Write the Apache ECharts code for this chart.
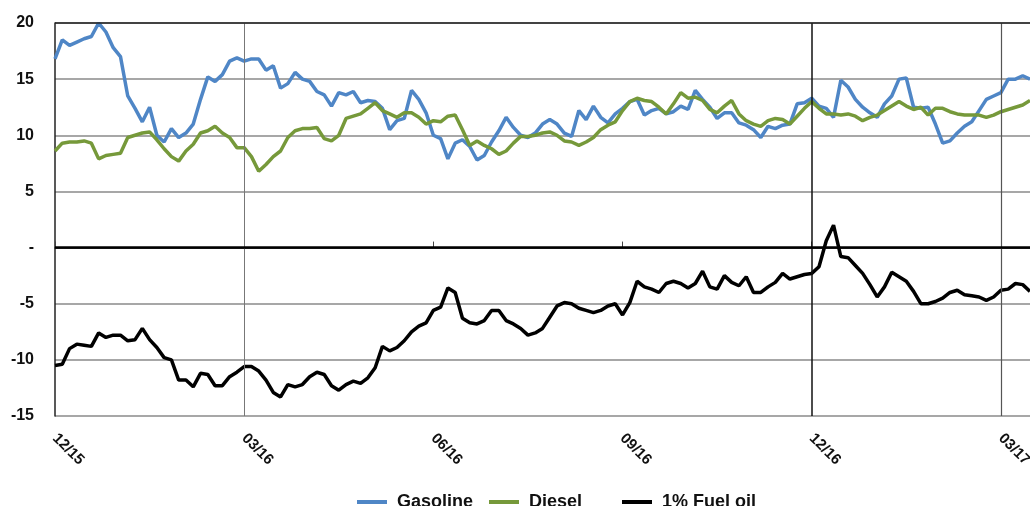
<!DOCTYPE html>
<html>
<head>
<meta charset="utf-8">
<script src="https://cdn.jsdelivr.net/npm/echarts@6/dist/echarts.min.js"></script>
<style>
  html, body { margin: 0; padding: 0; background: #fff; }
  #chart { width: 1030px; height: 506px; }
</style>
</head>
<body>
<div id="chart"></div>
<script>
// ~2 readings per week, 26 per quarter, Dec 2015 -> mid Mar 2017
var tickLabels = ['12/15', '03/16', '06/16', '09/16', '12/16', '03/17'];
var tickIndex = [0, 26, 52, 78, 104, 130];

var gasoline = [
  16.8, 18.5, 18.0, 18.3, 18.6, 18.8, 20.0, 19.2, 17.8, 17.0, 13.5, 12.4, 11.2, 12.5, 10.0, 9.4, 10.6, 9.8, 10.2, 11.0, 13.2, 15.2, 14.8, 15.4, 16.6, 16.9,
  16.6, 16.8, 16.8, 15.8, 16.2, 14.2, 14.6, 15.6, 15.0, 14.8, 13.9, 13.6, 12.6, 13.8, 13.6, 13.9, 12.9, 13.1, 13.0, 12.4, 10.5, 11.3, 11.5, 14.0, 13.2, 12.0,
  10.0, 9.7, 7.9, 9.3, 9.6, 9.0, 7.8, 8.2, 9.4, 10.4, 11.6, 10.7, 10.0, 9.8, 10.2, 11.0, 11.4, 11.0, 10.2, 9.9, 12.2, 11.4, 12.6, 11.6, 11.1, 11.9,
  12.4, 13.0, 13.2, 11.8, 12.2, 12.4, 11.9, 12.1, 12.6, 12.3, 14.0, 13.2, 12.5, 11.5, 12.0, 12.0, 11.1, 10.9, 10.5, 9.8, 10.8, 10.6, 10.9, 11.0, 12.8, 12.9,
  13.3, 12.6, 12.4, 11.6, 14.9, 14.3, 13.2, 12.5, 12.0, 11.6, 12.8, 13.5, 15.0, 15.1, 12.5, 12.4, 12.5, 11.0, 9.3, 9.5, 10.2, 10.8, 11.2, 12.2, 13.2, 13.5, 13.8, 15.0, 15.0, 15.3, 15.0
];
var diesel = [
  8.6, 9.3, 9.4, 9.4, 9.5, 9.3, 7.9, 8.2, 8.3, 8.4, 9.8, 10.0, 10.2, 10.3, 9.6, 8.8, 8.1, 7.7, 8.6, 9.2, 10.2, 10.4, 10.8, 10.2, 9.8, 8.9,
  8.9, 8.1, 6.8, 7.4, 8.1, 8.6, 9.8, 10.4, 10.6, 10.6, 10.7, 9.7, 9.5, 10.0, 11.5, 11.7, 11.9, 12.4, 12.9, 12.2, 11.9, 11.6, 12.0, 12.0, 11.6, 11.0,
  11.3, 11.2, 11.7, 11.8, 10.5, 9.1, 9.5, 9.1, 8.8, 8.3, 8.6, 9.3, 9.9, 9.9, 10.0, 10.2, 10.3, 10.0, 9.5, 9.4, 9.1, 9.4, 9.8, 10.5, 10.9, 11.2,
  12.2, 13.0, 13.3, 13.1, 13.0, 12.5, 11.9, 12.8, 13.8, 13.3, 13.4, 13.1, 12.3, 12.0, 12.6, 13.1, 11.9, 11.3, 11.0, 10.8, 11.3, 11.5, 11.4, 11.0, 11.7, 12.4,
  13.0, 12.4, 11.9, 11.9, 11.8, 11.9, 11.7, 11.3, 11.6, 11.8, 12.2, 12.6, 13.0, 12.6, 12.3, 12.5, 11.8, 12.4, 12.4, 12.1, 11.9, 11.8, 11.8, 11.8, 11.6, 11.8, 12.1, 12.3, 12.5, 12.7, 13.1
];
var fuelOil = [
  -10.5, -10.4, -9.0, -8.6, -8.7, -8.8, -7.6, -8.0, -7.8, -7.8, -8.3, -8.2, -7.2, -8.2, -8.9, -9.8, -10.0, -11.8, -11.8, -12.4, -11.2, -11.3, -12.3, -12.3, -11.5, -11.1,
  -10.6, -10.6, -11.0, -11.8, -12.9, -13.3, -12.2, -12.4, -12.2, -11.5, -11.1, -11.3, -12.3, -12.7, -12.2, -11.9, -12.1, -11.6, -10.7, -8.8, -9.2, -8.9, -8.3, -7.5, -7.0, -6.7,
  -5.6, -5.3, -3.6, -4.0, -6.3, -6.7, -6.8, -6.5, -5.6, -5.6, -6.5, -6.8, -7.2, -7.8, -7.6, -7.2, -6.2, -5.2, -4.9, -5.0, -5.4, -5.6, -5.8, -5.6, -5.2, -5.0,
  -6.0, -4.9, -3.0, -3.5, -3.7, -4.0, -3.2, -3.0, -3.2, -3.6, -3.2, -2.1, -3.5, -3.7, -2.5, -3.1, -3.4, -2.6, -4.0, -4.0, -3.5, -3.1, -2.3, -2.8, -2.6, -2.4,
  -2.3, -1.7, 0.6, 2.0, -0.8, -0.9, -1.6, -2.3, -3.3, -4.4, -3.5, -2.2, -2.6, -3.0, -3.9, -5.0, -5.0, -4.8, -4.5, -4.0, -3.8, -4.2, -4.3, -4.4, -4.7, -4.4, -3.8, -3.7, -3.2, -3.3, -3.9
];

var categories = gasoline.map(function (v, i) { return String(i); });
var font = 'Liberation Sans, Arial, sans-serif';

var myChart = echarts.init(document.getElementById('chart'));

function legendAt(name, left) {
  return {
    data: [name],
    left: left,
    top: 493,
    padding: 0,
    icon: 'rect',
    itemWidth: 30,
    itemHeight: 4,
    selectedMode: false,
    textStyle: { fontFamily: font, fontWeight: 'bold', fontSize: 18, color: '#111', padding: [0, 0, 0, 5] }
  };
}

var option = {
  animation: false,
  grid: { left: 55, right: 0, top: 23, bottom: 90, containLabel: false, outerBoundsMode: 'none' },
  legend: [legendAt('Gasoline', 357), legendAt('Diesel', 489), legendAt('1% Fuel oil', 622)],
  xAxis: {
    type: 'category',
    boundaryGap: false,
    data: categories,
    axisLine: { lineStyle: { color: '#222', width: 1.5 } },
    axisTick: {
      inside: true,
      length: 6,
      interval: function (idx) { return tickIndex.indexOf(idx) >= 0; },
      lineStyle: { color: '#444' }
    },
    axisLabel: {
      interval: function (idx) { return tickIndex.indexOf(idx) >= 0; },
      formatter: function (val, idx) { return tickLabels[tickIndex.indexOf(idx)]; },
      rotate: -45,
      margin: 20,
      fontFamily: font,
      fontWeight: 'bold',
      fontSize: 15,
      color: '#111'
    },
    splitLine: { show: false }
  },
  yAxis: {
    type: 'value',
    min: -15,
    max: 20,
    interval: 5,
    axisLine: { show: true, lineStyle: { color: '#222', width: 1.5 } },
    axisTick: { show: false },
    axisLabel: {
      margin: 21,
      formatter: function (v) { return v === 0 ? '-' : v; },
      fontFamily: font,
      fontWeight: 'bold',
      fontSize: 16,
      color: '#111'
    },
    splitLine: { lineStyle: { color: '#8a8a8a', width: 1.5 } }
  },
  series: [
    {
      name: 'Gasoline',
      type: 'line',
      data: gasoline,
      symbol: 'none',
      itemStyle: { color: '#4f86c6' },
      lineStyle: { color: '#4f86c6', width: 3.5 },
      markLine: {
        silent: true,
        symbol: 'none',
        label: { show: false },
        data: [
          { xAxis: categories[26], lineStyle: { color: '#777', width: 1, type: 'solid' } },
          { xAxis: categories[104], lineStyle: { color: '#111', width: 1.5, type: 'solid' } },
          { xAxis: categories[130], lineStyle: { color: '#555', width: 1.2, type: 'solid' } },
          { yAxis: 0, lineStyle: { color: '#000', width: 2.5, type: 'solid' } },
          { yAxis: 20, lineStyle: { color: '#222', width: 1.5, type: 'solid' } }
        ]
      }
    },
    {
      name: 'Diesel',
      type: 'line',
      data: diesel,
      symbol: 'none',
      itemStyle: { color: '#76993a' },
      lineStyle: { color: '#76993a', width: 3.5 }
    },
    {
      name: '1% Fuel oil',
      type: 'line',
      data: fuelOil,
      symbol: 'none',
      itemStyle: { color: '#000' },
      lineStyle: { color: '#000', width: 3.5 }
    }
  ]
};
myChart.setOption(option);
</script>
</body>
</html>
